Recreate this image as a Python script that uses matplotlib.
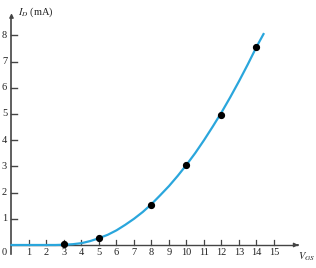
import matplotlib.pyplot as plt

# measured points (V_GS in V, I_D in mA)
vgs_pts = [3, 5, 8, 10, 12, 14]
id_pts = [0.05, 0.28, 1.53, 3.04, 4.96, 7.55]

# curve
vgs_curve = [0, 1, 2, 2.5, 3, 3.5, 4, 4.5, 5, 5.5, 6, 6.5, 7, 7.5, 8, 8.5, 9, 9.5,
             10, 10.5, 11, 11.5, 12, 12.5, 13, 13.5, 14, 14.4]
id_curve = [0, 0, 0, 0, 0.01, 0.03, 0.07, 0.15, 0.26, 0.39, 0.56, 0.77, 1.0, 1.26,
            1.56, 1.9, 2.25, 2.64, 3.06, 3.51, 4.0, 4.52, 5.06, 5.64, 6.25, 6.89,
            7.56, 8.05]

x_ticks = list(range(1, 16))
y_ticks = list(range(1, 9))

plt.rcParams['font.family'] = ['Liberation Serif', 'DejaVu Serif']
plt.rcParams['mathtext.fontset'] = 'stix'

fig = plt.figure(figsize=(3.16, 2.68), dpi=100)
ax = fig.add_axes([0, 0, 1, 1])
ax.set_xlim(-0.657, 17.4)
ax.set_ylim(-0.878, 9.35)
ax.axis('off')

axc = '#444444'
txc = '#222222'
fs = 7.5
# axes with arrows
ax.plot([0, 0], [-0.35, 8.7], color=axc, lw=1.2)
ax.annotate('', xy=(0, 8.95), xytext=(0, 8.6),
            arrowprops=dict(arrowstyle='-|>', color=axc, lw=1, mutation_scale=6))
ax.plot([0, 16.3], [0, 0], color=axc, lw=1.0)
ax.annotate('', xy=(16.55, 0), xytext=(16.2, 0),
            arrowprops=dict(arrowstyle='-|>', color=axc, lw=1, mutation_scale=6))

for x in x_ticks:
    ax.plot([x, x], [0, 0.2], color=axc, lw=0.9)
    ax.text(x, -0.3, str(x), ha='center', va='center', fontsize=fs, color=txc)
for y in y_ticks:
    ax.plot([0, 0.3], [y, y], color=axc, lw=1.0)
    ax.text(-0.4, y, str(y), ha='center', va='center', fontsize=fs, color=txc)
ax.text(-0.4, -0.3, '0', ha='center', va='center', fontsize=fs, color=txc)

ax.text(0.35, 8.88, r'$I_D$ (mA)', ha='left', va='center', fontsize=fs, color=txc)
ax.text(16.35, -0.45, r'$V_{GS}$', ha='left', va='center', fontsize=fs, color=txc)

ax.plot(vgs_curve, id_curve, color='#2aa6dc', lw=1.6, zorder=3)
ax.plot(vgs_pts, id_pts, 'o', color='black', ms=4.2, zorder=4)

fig.savefig('out.png', dpi=100)
